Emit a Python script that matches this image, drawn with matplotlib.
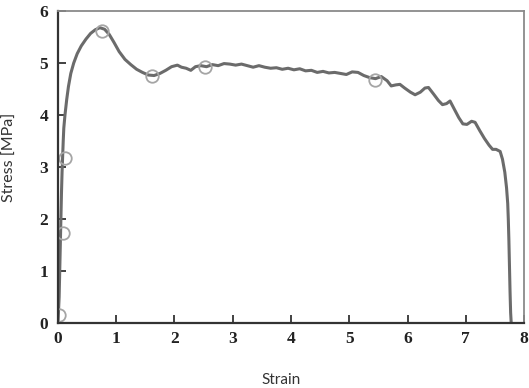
import numpy as np
import matplotlib.pyplot as plt

# ==============================
# DATA
# ==============================
strain = [0.00, 0.02, 0.03, 0.04, 0.05, 0.06, 0.07, 0.08, 0.09, 0.10, 0.12, 0.15,
          0.18, 0.22, 0.27, 0.33, 0.40, 0.48, 0.56, 0.64, 0.72, 0.80, 0.88, 0.96,
          1.05, 1.15, 1.25, 1.35, 1.45, 1.55, 1.65, 1.75, 1.85, 1.95, 2.05, 2.12,
          2.20, 2.28, 2.36, 2.45, 2.55, 2.65, 2.75, 2.85, 2.95, 3.05, 3.15, 3.25,
          3.35, 3.45, 3.55, 3.65, 3.75, 3.85, 3.95, 4.05, 4.15, 4.25, 4.35, 4.45,
          4.55, 4.65, 4.75, 4.85, 4.95, 5.05, 5.15, 5.25, 5.35, 5.45, 5.55, 5.65,
          5.72, 5.80, 5.87, 5.95, 6.05, 6.13, 6.22, 6.30, 6.36, 6.45, 6.53, 6.60,
          6.67, 6.73, 6.80, 6.88, 6.95, 7.02, 7.10, 7.16, 7.24, 7.32, 7.40, 7.46,
          7.52, 7.59, 7.63, 7.67, 7.70, 7.72, 7.73, 7.74, 7.75, 7.76, 7.77, 7.78]
stress = [0.00, 0.50, 1.00, 1.50, 2.00, 2.50, 2.90, 3.20, 3.50, 3.75, 4.00, 4.30,
          4.55, 4.80, 5.00, 5.18, 5.33, 5.46, 5.57, 5.64, 5.68, 5.65, 5.55, 5.40,
          5.22, 5.07, 4.97, 4.88, 4.82, 4.77, 4.76, 4.80, 4.86, 4.93, 4.96, 4.92,
          4.90, 4.86, 4.93, 4.95, 4.93, 4.97, 4.95, 4.99, 4.98, 4.96, 4.98, 4.95,
          4.92, 4.95, 4.92, 4.90, 4.91, 4.88, 4.90, 4.87, 4.89, 4.85, 4.86, 4.82,
          4.84, 4.81, 4.82, 4.80, 4.78, 4.83, 4.82, 4.76, 4.72, 4.70, 4.74, 4.66,
          4.56, 4.58, 4.59, 4.52, 4.44, 4.39, 4.44, 4.52, 4.53, 4.40, 4.28, 4.20,
          4.22, 4.27, 4.12, 3.95, 3.83, 3.82, 3.88, 3.86, 3.70, 3.55, 3.42, 3.34,
          3.34, 3.30, 3.15, 2.90, 2.60, 2.30, 2.00, 1.60, 1.10, 0.60, 0.20, 0.00]

# hollow circle markers on the curve
mark_strain = [0.01, 0.09, 0.12, 0.75, 1.62, 2.53, 5.44]
mark_stress = [0.15, 1.73, 3.17, 5.62, 4.76, 4.93, 4.67]

x_ticks = [0, 1, 2, 3, 4, 5, 6, 7, 8]
y_ticks = [0, 1, 2, 3, 4, 5, 6]

# ==============================
# PLOT
# ==============================
fig = plt.figure(figsize=(5.29, 3.88), dpi=100)
ax = fig.add_axes([0.1096, 0.1675, 0.881, 0.804])

ax.plot(strain, stress, color="#6b6b6b", lw=2.2, solid_joinstyle="round")
ax.plot(mark_strain, mark_stress, "o", ms=9, mfc="none", mec="#a5a5a5", mew=1.3)

ax.set_xlim(0, 8)
ax.set_ylim(0, 6)
ax.set_xticks(x_ticks)
ax.set_yticks(y_ticks)

tick_font = dict(family="Liberation Serif", weight="bold", size=12.5)
ax.set_xticklabels([str(t) for t in x_ticks], fontdict=tick_font, color="#222222")
ax.set_yticklabels([str(t) for t in y_ticks], fontdict=tick_font, color="#222222")

ax.tick_params(direction="in", length=6, width=1.3, color="#333333")
ax.tick_params(axis="x", pad=6)
ax.tick_params(axis="y", pad=7)

for side in ["left", "bottom"]:
    ax.spines[side].set_color("#333333")
    ax.spines[side].set_linewidth(1.6)
for side in ["top", "right"]:
    ax.spines[side].set_color("#8a8a8a")
    ax.spines[side].set_linewidth(1.3)

ax.set_xlabel("Strain", family="Lato", fontsize=11, color="#333333")
ax.set_ylabel("Stress [MPa]", family="Lato", fontsize=11.5, color="#333333")
ax.xaxis.set_label_coords(0.478, -0.16)
ax.yaxis.set_label_coords(-0.088, 0.53)

plt.savefig("out.png", dpi=100)
